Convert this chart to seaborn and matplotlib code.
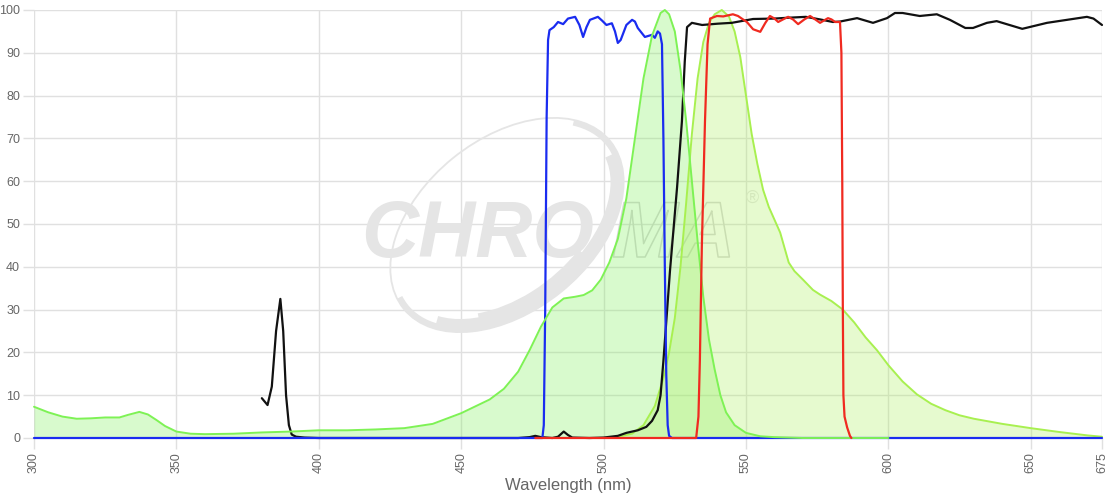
import matplotlib
matplotlib.use("Agg")
import matplotlib.pyplot as plt
import matplotlib.patheffects as pe
from matplotlib.patches import Ellipse, Arc
from matplotlib.transforms import IdentityTransform
import seaborn as sns
import pandas as pd

# excitation spectrum (bright green, filled)
ex_wl = [300, 305, 310, 315, 320, 325, 330, 333, 337, 340, 343, 346, 350, 355, 360, 370,
         380, 390, 400, 410, 420, 430, 440, 450, 460, 465, 470, 474, 478, 482, 486, 490,
         493, 496, 499, 502, 505, 508, 511, 514, 517, 520, 521.5, 523, 525, 527, 529, 531,
         533, 535, 537, 539, 541, 543, 546, 550, 555, 560, 570, 600]
ex_val = [7.3, 6.0, 5.0, 4.5, 4.6, 4.8, 4.8, 5.4, 6.1, 5.5, 4.2, 2.8, 1.5, 1.0, 0.9, 1.0,
          1.3, 1.5, 1.8, 1.8, 2.0, 2.3, 3.3, 5.8, 9.0, 11.5, 15.5, 20.5, 26, 30.5, 32.6, 33,
          33.4, 34.5, 37, 41, 46.5, 56, 70, 84, 94, 99.3, 100, 99, 95, 86, 74, 60,
          46, 33, 23, 16, 10, 6, 3, 1.2, 0.4, 0.2, 0, 0]

# emission spectrum (yellow green, filled)
em_wl = [500, 505, 510, 514, 518, 521, 523, 525, 527, 529, 531, 533, 535, 537, 539, 541.5,
         544, 546, 548, 550, 552, 554, 556, 558, 560, 562, 565, 567, 570, 573.5, 576, 580,
         584, 588, 592, 596, 600, 605, 610, 615, 620, 625, 630, 640, 650, 660, 670, 675]
em_val = [0, 0.3, 1, 3, 7.5, 14, 20, 28, 40, 55, 71, 84, 92.5, 97, 99, 100,
          98.5, 95, 89, 80, 71, 64, 58, 54, 51, 48, 41, 39, 37, 34.6, 33.5, 32,
          30, 27, 23.5, 20.5, 17, 13.2, 10.2, 8, 6.5, 5.3, 4.5, 3.3, 2.3, 1.4, 0.6, 0.3]

# excitation filter (blue)
bp_wl = [300, 478.5, 479, 479.5, 480, 480.5, 481, 482.5, 484, 485.8, 487.5, 490, 491.5, 492.8,
         494, 495.2, 498, 499.5, 501, 502.9, 504, 505, 506, 508, 510, 511, 512, 514.5, 517,
         518, 519, 519.8, 520.5, 521, 521.5, 522, 522.5, 523, 524, 675]
bp_val = [0, 0, 3, 30, 75, 93, 95.3, 96, 97.2, 96.7, 98, 98.4, 96.5, 93.7,
          96, 97.7, 98.4, 97.5, 96.5, 96.9, 95, 92.3, 93, 96.5, 97.7, 97.3, 95.8, 93.7, 94.2,
          93.5, 95, 94.5, 92, 70, 40, 15, 3, 0.5, 0, 0]

# dichroic mirror (black)
dm_wl = [380, 382, 383.5, 385, 386.5, 387.5, 388.5, 389.5, 390.5, 392, 395, 400, 470, 474,
         476, 478, 482, 484, 486, 487.5, 489, 495, 500, 505, 508, 512, 515, 517, 519, 520,
         521, 523.3, 525.8, 527.5, 528.5, 529.3, 531, 534.6, 540, 545, 552.5, 560, 565, 571,
         576, 580.5, 583, 589, 594.6, 599.5, 602.3, 605, 611, 617, 621.6, 627, 629.7, 634.6,
         638, 647, 655.7, 662.7, 669.7, 672, 675]
dm_val = [9.3, 7.7, 12, 25, 32.5, 25, 10, 3, 0.8, 0.3, 0.1, 0, 0, 0.2,
          0.5, 0.2, 0, 0.3, 1.5, 0.7, 0.1, 0, 0.1, 0.5, 1.2, 1.8, 2.6, 4, 6.5, 10,
          18, 39, 58.6, 74, 88, 96, 97, 96.5, 96.8, 97, 97.9, 98, 98.2, 98.4,
          97.8, 97.2, 97.3, 98.1, 97, 98.1, 99.3, 99.3, 98.6, 99, 97.7, 95.8, 95.8, 97,
          97.4, 95.6, 97, 97.7, 98.4, 98, 96.5]

# emission filter (red)
lp_wl = [476, 532.5, 533.3, 533.8, 534.5, 535.6, 536.5, 537.4, 539.8, 542, 545.4, 547.2, 548.5,
         550.3, 552.5, 555, 556.8, 558.4, 560, 561.3, 563, 564.8, 566.5, 568.3, 570.5, 572.5,
         574.3, 576, 577.5, 578.8, 580, 581.3, 583, 583.5, 583.8, 584, 584.2, 584.6, 585.5,
         586.5, 587]
lp_val = [0, 0, 5, 18, 45, 74, 92, 98, 98.6, 98.5, 99, 98.6, 98,
          97.2, 95.5, 94.9, 97, 98.6, 98, 97.2, 97.8, 98.4, 97.8, 96.7, 97.8, 98.6,
          97.8, 97, 97.6, 98.1, 97.8, 97.2, 97.2, 90, 60, 30, 10, 5, 2.5,
          0.5, 0]

x_ticks = [300, 350, 400, 450, 500, 550, 600, 650, 675]
y_ticks = list(range(0, 101, 10))

ex_df = pd.DataFrame({"wl": ex_wl, "val": ex_val})
em_df = pd.DataFrame({"wl": em_wl, "val": em_val})
bp_df = pd.DataFrame({"wl": bp_wl, "val": bp_val})
dm_df = pd.DataFrame({"wl": dm_wl, "val": dm_val})
lp_df = pd.DataFrame({"wl": lp_wl, "val": lp_val})

sns.set_theme(style="whitegrid")
plt.rcParams['font.family'] = ['Liberation Sans', 'DejaVu Sans']

fig = plt.figure(figsize=(11.2, 5), dpi=100)
ax = fig.add_axes([34 / 1120, 62 / 500, 1068 / 1120, 428 / 500])

# watermark logo (pixel coordinates)
grey = "#e5e5e5"
px = IdentityTransform()
ax.add_patch(Ellipse((507, 275), 266, 172, angle=39, fill=False, ec=grey, lw=1.3,
                     transform=px, zorder=0.6))
ax.add_patch(Arc((507, 275), 260, 166, angle=39, theta1=175, theta2=378, ec=grey, lw=4,
                 transform=px, zorder=0.6))
ax.add_patch(Arc((507, 275), 252, 158, angle=39, theta1=195, theta2=355, ec=grey, lw=9,
                 transform=px, zorder=0.6))
ax.add_patch(Arc((507, 275), 248, 154, angle=39, theta1=215, theta2=300, ec=grey, lw=12,
                 transform=px, zorder=0.6))
ax.text(594, 243, "CHRO", transform=px, ha="right", va="baseline",
        fontsize=57, fontweight="bold", fontstyle="italic", color=grey, zorder=0.7)
ax.text(612, 243, "MA", transform=px, ha="left", va="baseline",
        fontsize=57, fontweight="bold", fontstyle="italic", color=(1, 1, 1, 0), zorder=0.7,
        path_effects=[pe.Stroke(linewidth=1.1, foreground="#d6d6d6")])
ax.text(752, 302, "®", transform=px, ha="center", va="center",
        fontsize=13, color=grey, zorder=0.7)

# fills
ax.fill_between(ex_df["wl"], ex_df["val"], color="#80f05c", alpha=0.3, lw=0, zorder=1)
ax.fill_between(em_df["wl"], em_df["val"], color="#aef060", alpha=0.3, lw=0, zorder=1)

sns.lineplot(data=em_df, x="wl", y="val", ax=ax, color="#a8f050", linewidth=1.4, zorder=2)
sns.lineplot(data=dm_df, x="wl", y="val", ax=ax, color="#111111", linewidth=1.6, zorder=3)
sns.lineplot(data=bp_df, x="wl", y="val", ax=ax, color="#1a2cf0", linewidth=1.6, zorder=3.1)
sns.lineplot(data=ex_df, x="wl", y="val", ax=ax, color="#7ef255", linewidth=1.4, zorder=3.15)
sns.lineplot(data=lp_df, x="wl", y="val", ax=ax, color="#f02a20", linewidth=1.6, zorder=3.2)
for ln in ax.lines:
    ln.set_clip_on(False)

ax.set_xlim(300, 675)
ax.set_ylim(0, 100)
ax.set_xticks(x_ticks)
ax.set_yticks(y_ticks)
ax.set_xticklabels([str(t) for t in x_ticks], rotation=90)
ax.tick_params(axis="both", which="both", length=8, color="#e0e0e0", labelcolor="#666666",
               labelsize=9, pad=2, left=True, bottom=True, width=1)
ax.grid(True, color="#e0e0e0", linewidth=1)
for s in ax.spines.values():
    s.set_visible(False)
ax.set_xlabel("Wavelength (nm)", fontsize=12, color="#666666", labelpad=4)
ax.set_ylabel("")

fig.savefig("out.png", dpi=100)
